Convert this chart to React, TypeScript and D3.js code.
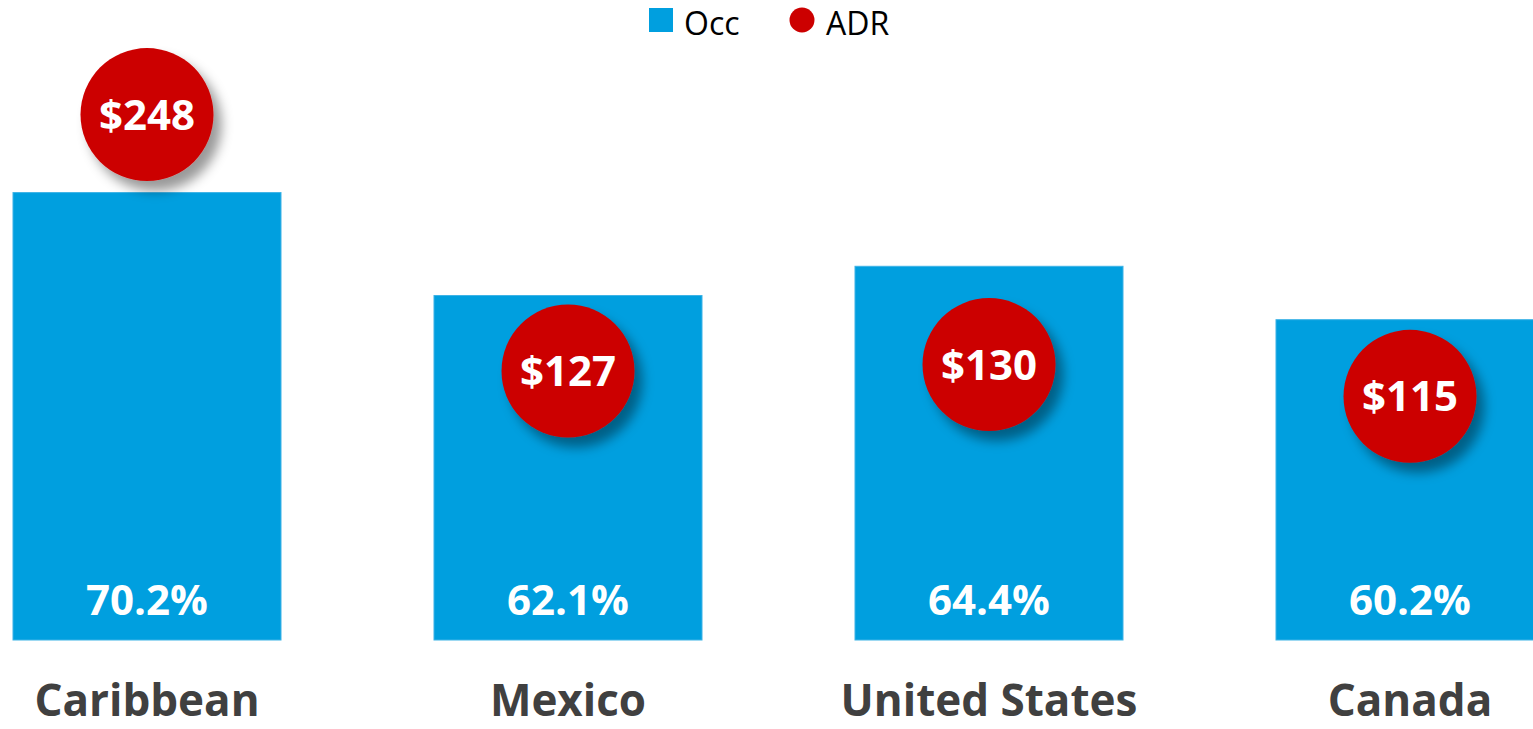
import React, { useEffect, useRef } from 'react'
import * as d3 from 'd3'

const categories = ['Caribbean', 'Mexico', 'United States', 'Canada']
const occValues = [70.2, 62.1, 64.4, 60.2]
const adrValues = [248, 127, 130, 115]
const legendLabels = ['Occ', 'ADR']

const WIDTH = 1533
const HEIGHT = 729

function App() {
  const ref = useRef<SVGSVGElement>(null)

  useEffect(() => {
    document.body.style.margin = '0'
    const svg = d3.select(ref.current)
    svg.selectAll('*').remove()

    const font = "'Open Sans', sans-serif"
    const blue = '#009fdf'
    const red = '#cc0000'

    const plotTop = 68
    const plotBottom = 640

    const x = d3.scaleBand<string>()
      .domain(categories)
      .range([-63.5, 1620.5])
      .paddingInner(0.3634)
      .paddingOuter(0.1817)

    let yOcc = d3.scaleLinear().domain([35, 80]).range([plotBottom, plotTop])
    let yAdr = d3.scaleLinear().domain([0, 270]).range([plotBottom, plotTop])

    const defs = svg.append('defs')
    const filter = defs.append('filter')
      .attr('id', 'shadow')
      .attr('x', '-30%').attr('y', '-30%')
      .attr('width', '170%').attr('height', '170%')
    filter.append('feDropShadow')
      .attr('dx', 8)
      .attr('dy', 10)
      .attr('stdDeviation', 6)
      .attr('flood-color', '#000')
      .attr('flood-opacity', 0.4)

    const data = categories.map((c, i) => ({ cat: c, occ: occValues[i], adr: adrValues[i] }))

    // bars
    svg.selectAll('rect.bar')
      .data(data)
      .enter()
      .append('rect')
      .attr('class', 'bar')
      .attr('x', d => x(d.cat)!)
      .attr('y', d => yOcc(d.occ))
      .attr('width', x.bandwidth())
      .attr('height', d => plotBottom - yOcc(d.occ))
      .attr('fill', blue)
      .attr('stroke', '#3db3e6')
      .attr('stroke-width', 1)

    // occ labels
    svg.selectAll('text.occ')
      .data(data)
      .enter()
      .append('text')
      .attr('class', 'occ')
      .attr('x', d => x(d.cat)! + x.bandwidth() / 2)
      .attr('y', 615)
      .attr('text-anchor', 'middle')
      .attr('font-family', font)
      .attr('font-weight', 700)
      .attr('font-size', 42)
      .attr('fill', '#fff')
      .text(d => d.occ.toFixed(1) + '%')

    // adr circles
    svg.selectAll('circle.adr')
      .data(data)
      .enter()
      .append('circle')
      .attr('class', 'adr')
      .attr('cx', d => x(d.cat)! + x.bandwidth() / 2)
      .attr('cy', d => yAdr(d.adr))
      .attr('r', 66.5)
      .attr('fill', red)
      .attr('filter', 'url(#shadow)')

    svg.selectAll('text.adr')
      .data(data)
      .enter()
      .append('text')
      .attr('class', 'adr')
      .attr('x', d => x(d.cat)! + x.bandwidth() / 2)
      .attr('y', d => yAdr(d.adr) + 15)
      .attr('text-anchor', 'middle')
      .attr('font-family', font)
      .attr('font-weight', 700)
      .attr('font-size', 42)
      .attr('fill', '#fff')
      .text(d => '$' + d.adr)

    // category labels
    svg.selectAll('text.cat')
      .data(data)
      .enter()
      .append('text')
      .attr('class', 'cat')
      .attr('x', d => x(d.cat)! + x.bandwidth() / 2)
      .attr('y', 716)
      .attr('text-anchor', 'middle')
      .attr('font-family', font)
      .attr('font-weight', 700)
      .attr('font-size', 44)
      .attr('fill', '#404040')
      .text(d => d.cat)

    // legend
    const legend = svg.append('g')
    legend.append('rect')
      .attr('x', 649).attr('y', 8)
      .attr('width', 24).attr('height', 24)
      .attr('fill', blue)
    legend.append('text')
      .attr('x', 684).attr('y', 35)
      .attr('font-family', font)
      .attr('font-size', 32)
      .attr('fill', '#000')
      .text(legendLabels[0])
    legend.append('circle')
      .attr('cx', 802).attr('cy', 20)
      .attr('r', 12.5)
      .attr('fill', red)
    legend.append('text')
      .attr('x', 826).attr('y', 35)
      .attr('font-family', font)
      .attr('font-size', 32)
      .attr('fill', '#000')
      .text(legendLabels[1])
  }, [])

  return (
    <svg ref={ref} width={WIDTH} height={HEIGHT} style={{ display: 'block' }}></svg>
  )
}

export default App
